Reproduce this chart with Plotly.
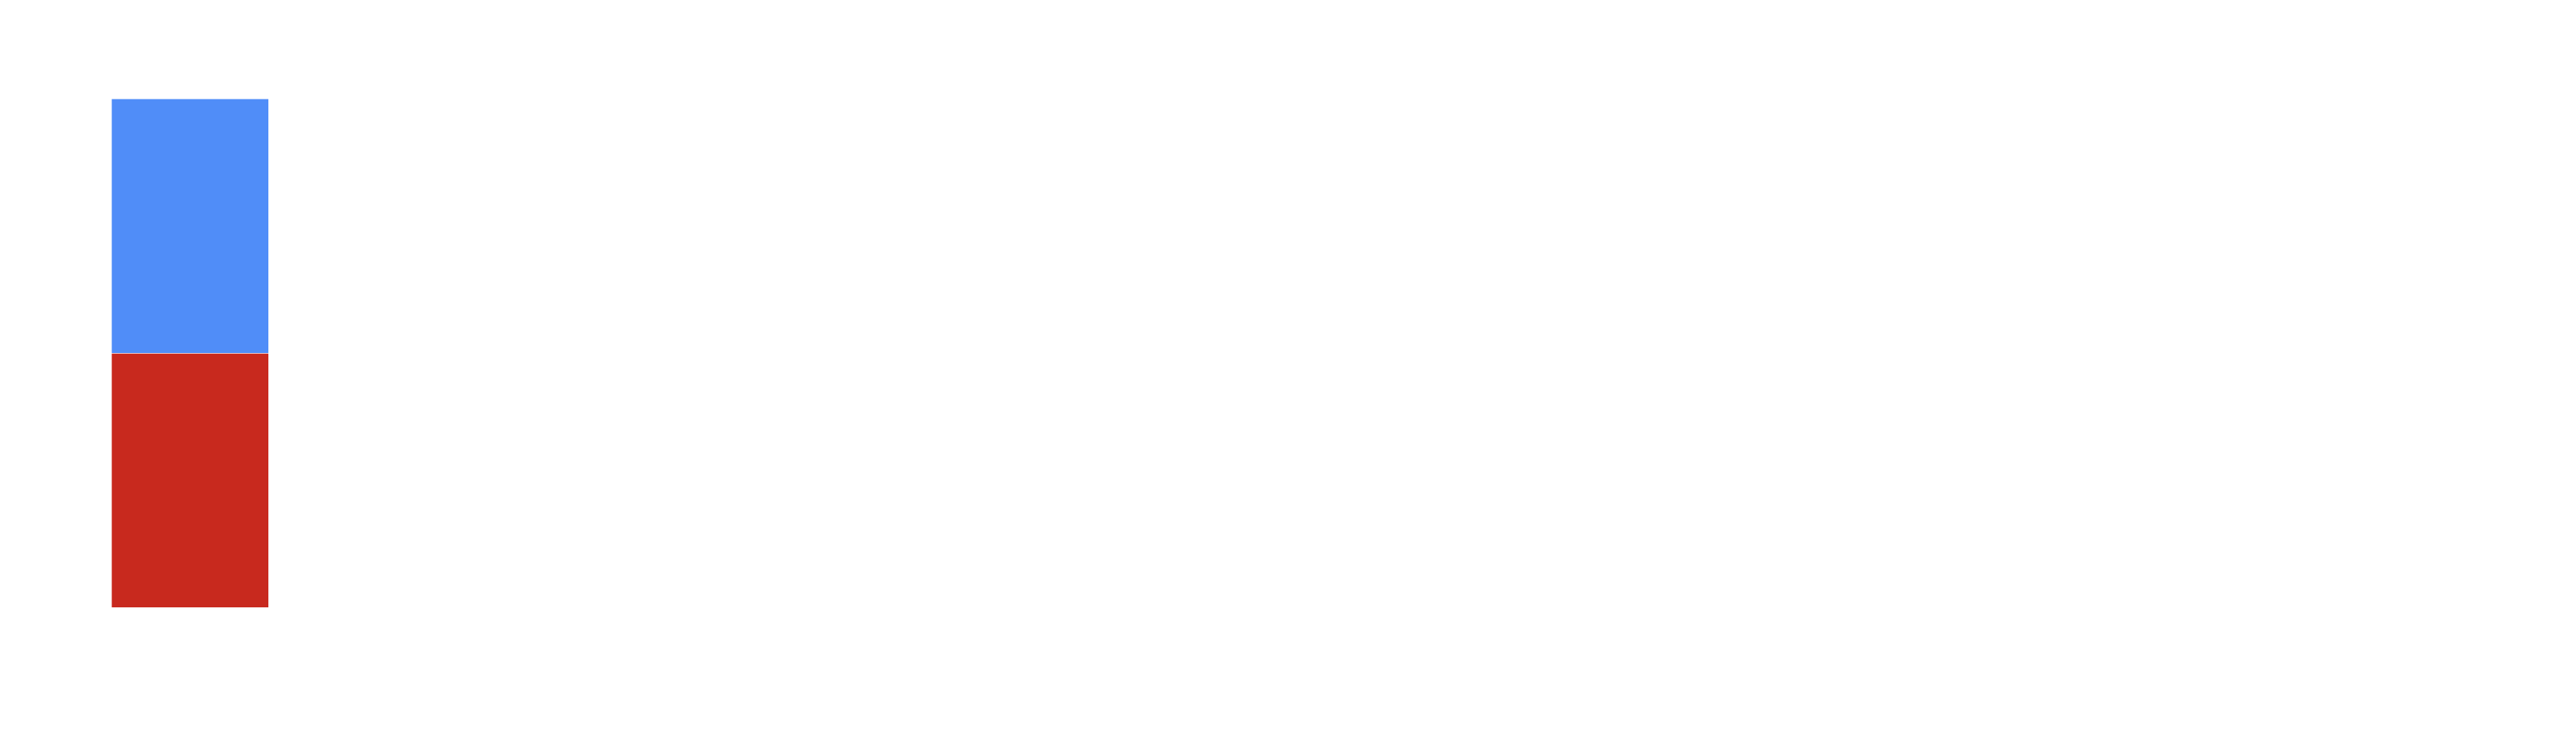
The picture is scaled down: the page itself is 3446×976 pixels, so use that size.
import plotly.graph_objects as go

# Single stacked column, two equal segments
categories = ["Total"]
series_names = ["Bottom", "Top"]
bottom_values = [50]
top_values = [50]
colors = ["#c8291e", "#508df8"]

# page body adds an 8px margin, so keep the figure 16px smaller than the window
W, H = 3430, 960
margin_l, margin_r, margin_t, margin_b = 115, 80, 124, 156

# bar of 0.8 category units spans ~210 px -> one unit is ~262.5 px
unit_px = 262.5
plot_w = W - margin_l - margin_r
x_max = plot_w / unit_px - 0.5

fig = go.Figure()
fig.add_trace(go.Bar(
    x=categories,
    y=bottom_values,
    name=series_names[0],
    marker=dict(color=colors[0], line=dict(width=0.5, color="white")),
))
fig.add_trace(go.Bar(
    x=categories,
    y=top_values,
    name=series_names[1],
    marker=dict(color=colors[1], line=dict(width=0.5, color="white")),
))

fig.update_layout(
    barmode="stack",
    bargap=0.2,
    width=W,
    height=H,
    margin=dict(l=margin_l, r=margin_r, t=margin_t, b=margin_b),
    paper_bgcolor="white",
    plot_bgcolor="white",
    showlegend=False,
    xaxis=dict(range=[-0.5, x_max], visible=False, showgrid=False, zeroline=False),
    yaxis=dict(range=[0, 100], visible=False, showgrid=False, zeroline=False),
)

fig.write_html("out.html")
